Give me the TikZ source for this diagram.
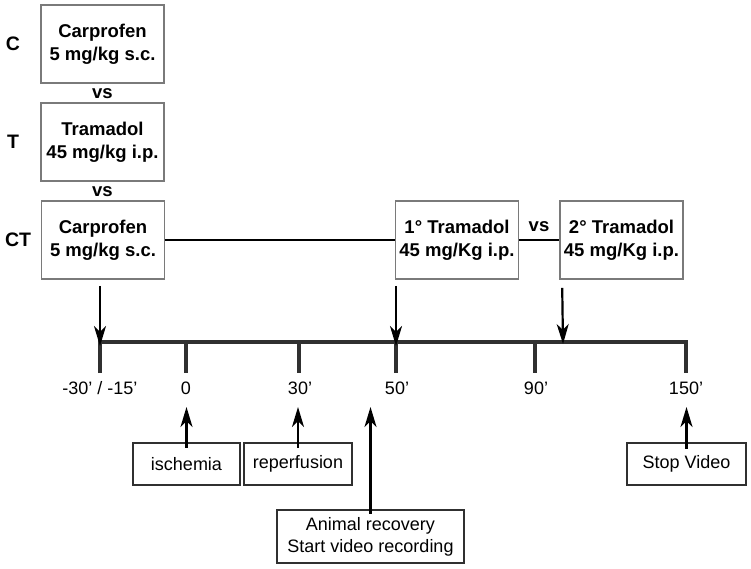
\documentclass[tikz,border=0pt]{standalone}
\usepackage{fontspec}
\setmainfont{Liberation Sans}
\usetikzlibrary{arrows.meta}
\definecolor{boxgray}{HTML}{7A7A7A}
\definecolor{tlgray}{HTML}{303030}
\begin{document}
\begin{tikzpicture}[x=1pt,y=-1pt,
  drugbox/.style={draw=boxgray,line width=1.6pt,minimum width=123pt,minimum height=78pt,inner sep=0pt,align=center,font=\bfseries\fontsize{18.5}{23}\selectfont},
  evbox/.style={draw=tlgray,line width=2.6pt,minimum height=42pt,inner sep=0pt,align=center,font=\fontsize{18}{22}\selectfont},
  grp/.style={font=\bfseries\fontsize{19.5}{22}\selectfont,inner sep=0pt},
  vslab/.style={font=\bfseries\fontsize{18.5}{22}\selectfont,inner sep=0pt},
  tlab/.style={font=\fontsize{18}{22}\selectfont,inner sep=0pt},
  conn/.style={line width=2pt,black},
  arr/.style={line width=2.2pt,black,-{Stealth[length=20pt,width=12pt,inset=6pt]}},
  tl/.style={line width=3.2pt,tlgray,line cap=butt,line join=miter}]
\useasboundingbox (0,0) rectangle (751,569);
% group labels
\node[grp] (lC) at (13,44) {C};
\node[grp] (lT) at (13,142) {T};
\node[grp] (lCT) at (18,240) {CT};
% drug boxes
\node[drugbox] (C) at (102.5,44) {Carprofen\\5 mg/kg s.c.};
\node[vslab] (vs1) at (102.5,94) {vs};
\node[drugbox] (T) at (102.5,142) {Tramadol\\45 mg/kg i.p.};
\node[vslab] (vs2) at (102.5,192) {vs};
\node[drugbox] (CT) at (103,240) {Carprofen\\5 mg/kg s.c.};
\node[drugbox] (T1) at (457,240) {1\textdegree{} Tramadol\\45 mg/Kg i.p.};
\node[vslab] (vs3) at (539,227) {vs};
\node[drugbox] (T2) at (621.5,240) {2\textdegree{} Tramadol\\45 mg/Kg i.p.};
\draw[conn] (CT.east) -- (T1.west);
\draw[conn] (T1.east) -- (T2.west);
% timeline
\coordinate (t0) at (100,342);
\coordinate (t1) at (186,342);
\coordinate (t2) at (299,342);
\coordinate (t3) at (396,342);
\coordinate (t4) at (535,342);
\coordinate (t5) at (686,342);
\coordinate (t2b) at (563,342);
\draw[tl] (t0 |- 0,373) -- (t0) -- (t5) -- (t5 |- 0,373);
\foreach \t in {t1,t2,t3,t4} \draw[tl] (\t) -- (\t |- 0,373);
% time labels
\node[tlab] (m0) at (100,388) {-30’ / -15’};
\node[tlab] (m1) at (186,388) {0};
\node[tlab] (m2) at (300,388) {30’};
\node[tlab] (m3) at (397,388) {50’};
\node[tlab] (m4) at (536,388) {90’};
\node[tlab] (m5) at (686,388) {150’};
% dose arrows
\draw[arr] ([xshift=-3pt,yshift=-6pt]CT.south) -- ([yshift=-4pt]t0);
\draw[arr] ([xshift=-61pt,yshift=-6pt]T1.south) -- ([yshift=-4pt]t3);
\draw[arr] ([xshift=3pt,yshift=-8pt]T2.south west) -- ([yshift=-2pt]t2b);
% event boxes
\node[evbox,minimum width=107pt] (isc) at (186.5,464) {ischemia};
\node[evbox,minimum width=108pt] (rep) at (298,464) {reperfusion};
\node[evbox,minimum width=187pt,minimum height=53pt] (rec) at (370.5,536.5) {Animal recovery\\Start video recording};
\node[evbox,minimum width=119pt] (stop) at (686.5,464) {Stop Video};
\coordinate (up) at (0,407);
\draw[arr] ([yshift=-6pt]isc.north) -- (isc.north |- up);
\draw[arr] ([yshift=-6pt]rep.north) -- (rep.north |- up);
\draw[arr] ([yshift=-5pt]rec.north) -- (rec.north |- up);
\draw[arr] ([yshift=-7pt]stop.north) -- (stop.north |- up);
\end{tikzpicture}
\end{document}
